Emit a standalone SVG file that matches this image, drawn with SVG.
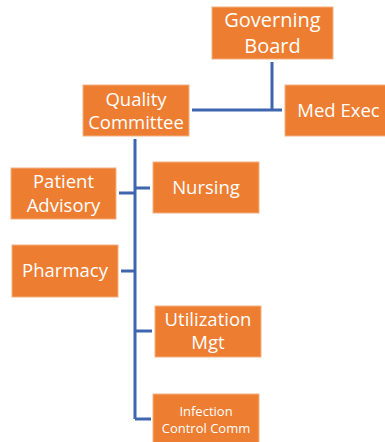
<svg xmlns="http://www.w3.org/2000/svg" width="385" height="442" viewBox="0 0 385 442">
  <style>
    .box { fill: #ED7D31; stroke: #F4B183; stroke-width: 1; }
    .lbl { font-family: "Open Sans", "Noto Sans", sans-serif; fill: #FFFFFF; text-anchor: middle; font-size: 18.5px; }
    .big { font-size: 20px; }
    .sm { font-size: 13px; }
    .wire { stroke: #3F65AE; stroke-width: 3; fill: none; }
  </style>
  <rect width="385" height="442" fill="#FFFFFF"/>

  <g id="connectors">
    <path class="wire" d="M272 62 V110 M192 110 H282"/>
    <path class="wire" d="M135 139 V419"/>
    <path class="wire" d="M119 193 H135 M135 188 H150"/>
    <path class="wire" d="M121 271 H135"/>
    <path class="wire" d="M135 331 H152"/>
    <path class="wire" d="M135 419 H151"/>
  </g>

  <g id="governing-board">
    <rect class="box" x="212" y="7" width="121" height="52"/>
    <text class="lbl big" x="272.5" y="27">Governing</text>
    <text class="lbl big" x="272.5" y="53">Board</text>
  </g>

  <g id="quality-committee">
    <rect class="box" x="83" y="85" width="106" height="51"/>
    <text class="lbl" x="136" y="106">Quality</text>
    <text class="lbl" x="136" y="129">Committee</text>
  </g>

  <g id="med-exec">
    <rect class="box" x="285" y="85" width="101" height="51"/>
    <text class="lbl" x="338.5" y="117">Med Exec</text>
  </g>

  <g id="patient-advisory">
    <rect class="box" x="11" y="168" width="105" height="51"/>
    <text class="lbl" x="63.5" y="188">Patient</text>
    <text class="lbl" x="63.5" y="212">Advisory</text>
  </g>

  <g id="nursing">
    <rect class="box" x="153" y="162" width="106" height="51"/>
    <text class="lbl" x="206" y="194">Nursing</text>
  </g>

  <g id="pharmacy">
    <rect class="box" x="12" y="245" width="106" height="52"/>
    <text class="lbl" x="65" y="277">Pharmacy</text>
  </g>

  <g id="utilization-mgt">
    <rect class="box" x="155" y="306" width="106" height="51"/>
    <text class="lbl" x="208" y="326">Utilization</text>
    <text class="lbl" x="208" y="349">Mgt</text>
  </g>

  <g id="infection-control">
    <rect class="box" x="153" y="394" width="106" height="50"/>
    <text class="lbl sm" x="206" y="416">Infection</text>
    <text class="lbl sm" x="206" y="433">Control Comm</text>
  </g>
</svg>
